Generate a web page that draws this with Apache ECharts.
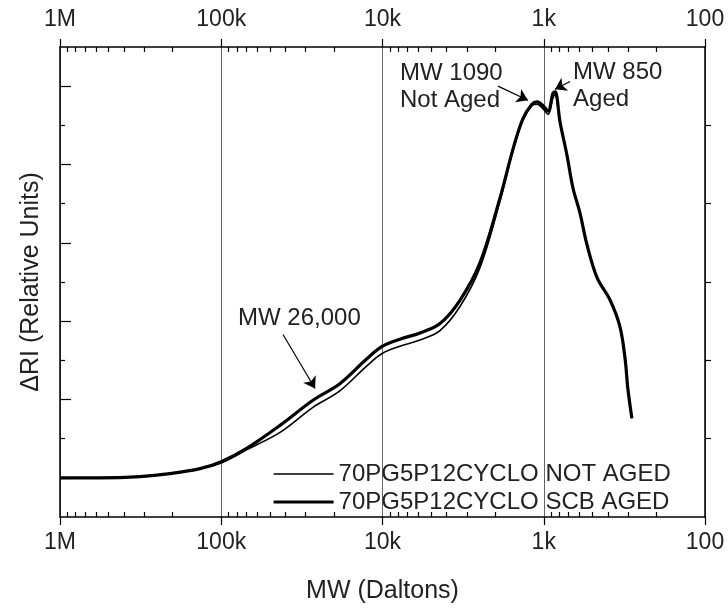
<!DOCTYPE html>
<html><head><meta charset="utf-8">
<script src="https://cdn.jsdelivr.net/npm/echarts@6/dist/echarts.min.js"></script>
<style>html,body{margin:0;padding:0;background:#fff}#c{width:728px;height:609px}</style>
</head><body><div id="c"></div>
<script>
// ---- data ----
const mwValues = [1000000, 565000, 319000, 208000, 135500, 100000, 69200, 43200, 27000, 18400, 12500, 10000, 7800, 5850, 4400, 3300, 2480, 1870, 1550, 1350, 1185, 1100, 1010, 940, 877, 850, 792, 718, 659, 596, 540, 468, 388, 337, 313, 301, 284];
const riAged =    [0, 0, 0.016, 0.054, 0.117, 0.206, 0.38, 0.67, 0.99, 1.20, 1.52, 1.68, 1.77, 1.85, 1.97, 2.27, 2.75, 3.57, 4.20, 4.58, 4.77, 4.80, 4.75, 4.68, 4.91, 4.93, 4.54, 4.12, 3.70, 3.38, 2.98, 2.56, 2.27, 1.93, 1.52, 1.14, 0.76];
const riNotAged = [0, 0, 0.016, 0.054, 0.117, 0.19, 0.36, 0.58, 0.90, 1.11, 1.43, 1.59, 1.68, 1.76, 1.88, 2.19, 2.69, 3.53, 4.18, 4.56, 4.75, 4.77, 4.71, 4.64, 4.85, 4.89, 4.53, 4.12, 3.70, 3.38, 2.98, 2.56, 2.27, 1.93, 1.52, 1.14, 0.76];
const seriesNames = ['70PG5P12CYCLO NOT AGED', '70PG5P12CYCLO SCB AGED'];
const decadeValues = [100, 1000, 10000, 100000, 1000000];
const decadeLabels = ['100', '1k', '10k', '100k', '1M'];
const minorMultipliers = [2, 3, 4, 5, 6, 7, 8, 9];
const yMajorTicks = [0, 1, 2, 3, 4, 5];
const yHalfTicks = [0.5, 1.5, 2.5, 3.5, 4.5];
// annotations: text anchor [MW, RI], arrow tail and head [MW, RI]
const annotationLines = [['MW 1090', 'Not Aged'], ['MW 850', 'Aged'], ['MW 26,000']];
const annotationText = [[7790, 5.16], [658, 5.175], [78700, 2.034]];
const arrowTail = [[1923, 5.0], [687, 5.06], [41400, 1.83]];
const arrowHead = [[1253, 4.82], [851, 4.96], [26200, 1.14]];

// ---- build ----
const L = v => Math.log10(v);
const FONT = "'Liberation Sans', Arial, sans-serif";
const TXT = '#222';
const lineWidths = [1.6, 3.2];
const labelMap = {};
decadeValues.forEach((v, i) => { labelMap[Math.round(L(v))] = decadeLabels[i]; });
const xMinor = [];
for (let n = 2; n <= 5; n++) minorMultipliers.forEach(k => xMinor.push(L(k * Math.pow(10, n))));
const axisLineStyle = { color: '#000', width: 1.5 };
const tickStyle = { color: '#000', width: 1.2 };
const baseX = { type: 'value', min: 2, max: 6, interval: 1, inverse: true, splitLine: { show: false } };
const xLabel = { show: true, formatter: v => labelMap[Math.round(v)] || '', fontSize: 23, color: TXT, fontFamily: FONT };
const baseY = { type: 'value', min: -0.5, max: 5.5, axisLabel: { show: false }, splitLine: { show: false } };

const chart = echarts.init(document.getElementById('c'), null, { renderer: 'canvas' });
const option = {
  animation: false,
  backgroundColor: '#fff',
  grid: { left: 60, right: 23, top: 47, bottom: 86, containLabel: false },
  legend: {
    data: seriesNames.map((n, i) => ({ name: n, lineStyle: { color: '#000', width: lineWidths[i] } })),
    orient: 'vertical', left: 267, top: 457, itemWidth: 60, itemHeight: 14, itemGap: 4,
    itemStyle: { opacity: 0 },
    textStyle: { fontSize: 24, color: TXT, fontFamily: FONT }, selectedMode: false
  },
  xAxis: [
    Object.assign({}, baseX, {
      position: 'bottom',
      axisLine: { show: true, onZero: false, lineStyle: axisLineStyle },
      axisTick: { show: true, inside: false, length: 8, lineStyle: tickStyle },
      axisLabel: Object.assign({}, xLabel, { margin: 14 }),
      splitLine: { show: true, lineStyle: { color: '#666', width: 1 } },
      name: 'MW (Daltons)', nameLocation: 'middle', nameGap: 62,
      nameTextStyle: { fontSize: 25, color: TXT, fontFamily: FONT }
    }),
    Object.assign({}, baseX, {
      position: 'bottom', axisLine: { show: false, onZero: false }, axisLabel: { show: false },
      axisTick: { show: true, inside: true, length: 5, customValues: xMinor, lineStyle: tickStyle }
    }),
    Object.assign({}, baseX, {
      position: 'top',
      axisLine: { show: true, onZero: false, lineStyle: axisLineStyle },
      axisTick: { show: true, inside: false, length: 8, lineStyle: tickStyle },
      axisLabel: Object.assign({}, xLabel, { margin: 16 })
    }),
    Object.assign({}, baseX, {
      position: 'top', axisLine: { show: false, onZero: false }, axisLabel: { show: false },
      axisTick: { show: true, inside: true, length: 5, customValues: xMinor, lineStyle: tickStyle }
    })
  ],
  yAxis: [
    Object.assign({}, baseY, {
      position: 'left',
      axisLine: { show: true, onZero: false, lineStyle: axisLineStyle },
      axisTick: { show: true, inside: true, length: 11, customValues: yMajorTicks, lineStyle: tickStyle },
      name: 'ΔRI (Relative Units)', nameLocation: 'middle', nameGap: 16,
      nameTextStyle: { fontSize: 25, color: TXT, fontFamily: FONT }
    }),
    Object.assign({}, baseY, {
      position: 'left', axisLine: { show: false, onZero: false },
      axisTick: { show: true, inside: true, length: 5, customValues: yHalfTicks, lineStyle: tickStyle }
    }),
    Object.assign({}, baseY, {
      position: 'right',
      axisLine: { show: true, onZero: false, lineStyle: axisLineStyle },
      axisTick: { show: true, inside: false, length: 6, customValues: yHalfTicks, lineStyle: tickStyle }
    })
  ],
  series: [
    {
      name: seriesNames[0], type: 'line', xAxisIndex: 0, yAxisIndex: 0,
      data: mwValues.map((m, i) => [L(m), riNotAged[i]]),
      symbol: 'none', smooth: 0.35, lineStyle: { color: '#000', width: lineWidths[0] }, itemStyle: { color: '#000' }, z: 3
    },
    {
      name: seriesNames[1], type: 'line', xAxisIndex: 0, yAxisIndex: 0,
      data: mwValues.map((m, i) => [L(m), riAged[i]]),
      symbol: 'none', smooth: 0.35, lineStyle: { color: '#000', width: lineWidths[1] }, itemStyle: { color: '#000' }, z: 4
    },
    {
      name: 'arrows', type: 'line', xAxisIndex: 0, yAxisIndex: 0, data: [], silent: true, z: 5,
      markLine: {
        silent: true, symbol: ['none', 'arrow'], symbolSize: 11, animation: false,
        label: { show: false }, lineStyle: { color: '#000', width: 1.2, type: 'solid' },
        itemStyle: { color: '#000' },
        emphasis: { disabled: true },
        data: arrowTail.map((t, i) => [{ coord: [L(t[0]), t[1]] }, { coord: [L(arrowHead[i][0]), arrowHead[i][1]] }])
      }
    }
  ]
};
chart.setOption(option);

// annotation text, positioned from data coordinates
const graphics = [];
annotationLines.forEach((lines, i) => {
  const p = chart.convertToPixel({ xAxisIndex: 0, yAxisIndex: 0 }, [L(annotationText[i][0]), annotationText[i][1]]);
  lines.forEach((t, j) => {
    graphics.push({
      type: 'text', x: p[0], y: p[1] + j * 27, silent: true,
      style: { text: t, fontSize: 24, fontFamily: FONT, fill: TXT, verticalAlign: 'middle', align: 'left' }
    });
  });
});
chart.setOption({ graphic: graphics });
</script></body></html>
